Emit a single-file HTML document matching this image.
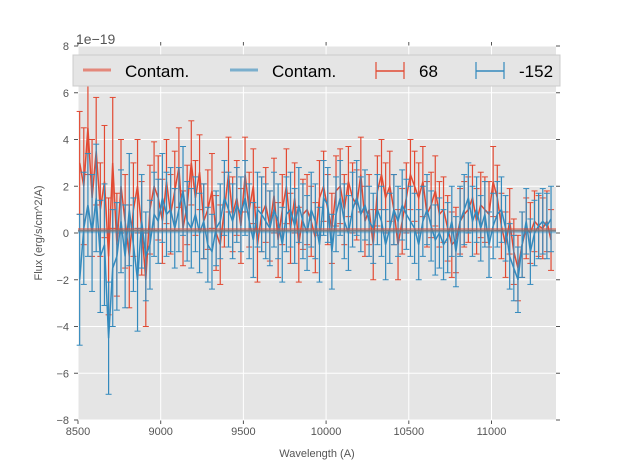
<!DOCTYPE html>
<html><head><meta charset="utf-8"><style>
body{margin:0;background:#fff;font-family:"Liberation Sans",sans-serif}
</style></head><body>
<svg id="chart" width="617" height="467" xmlns="http://www.w3.org/2000/svg" font-family="Liberation Sans, sans-serif"></svg>
<script>
const xStart = 8510, xStep = 25;
const redFlux = [3.0,2.0,4.5,1.5,3.5,1.0,2.2,-1.0, 3.0,-0.5,2.0,0.5,-1.0,1.0,2.0,0.2, -2.0,1.0,2.0,1.5,0.5,2.2,0.8,1.8, 2.8,0.2,1.2,3.0,1.5,2.6,0.5,1.0, 1.8,0.0,-0.5,1.0,2.5,0.8,1.5,0.3, 2.5,1.0,2.0,-0.5,0.8,1.2,0.3,1.6, -0.3,1.0,2.0,0.2,1.5,-0.5,0.8,1.0, 0.5,-0.2,1.5,2.0,1.0,0.2,1.8,2.0, 1.0,2.2,1.5,1.2,2.5,0.5,1.0,-0.5, 1.8,2.5,1.5,2.0,1.0,-0.5,0.5,1.5, 2.5,2.0,1.5,2.2,0.8,1.2,1.8,0.8, 1.0,0.2,-0.5,-0.3,0.5,0.8,1.0,1.5, 0.5,1.2,1.0,0.8,2.2,1.5,0.3,-0.5, 0.5,-0.8,-1.5,-0.5,0.2,0.0,0.5,0.3, 0.2,0.5,-0.3];
const redErr = [2.2,2.5,2.0,2.5,2.3,2.0,2.4,2.5, 2.8,2.2,2.0,2.0,2.2,2.0,2.0,2.0, 2.0,1.9,1.9,1.8,1.8,1.8,1.7,1.7, 1.7,1.6,1.7,1.8,1.6,1.6,1.6,1.7, 1.6,1.6,1.7,1.6,1.6,1.6,1.6,1.6, 1.6,1.6,1.6,1.6,1.6,1.6,1.5,1.6, 1.6,1.5,1.6,1.5,1.5,1.6,1.5,1.5, 1.5,1.5,1.6,1.5,1.5,1.5,1.5,1.6, 1.5,1.5,1.5,1.5,1.6,1.5,1.5,1.5, 1.5,1.5,1.5,1.5,1.5,1.5,1.4,1.5, 1.5,1.5,1.5,1.5,1.4,1.4,1.5,1.4, 1.4,1.4,1.4,1.4,1.4,1.4,1.4,1.4, 1.4,1.4,1.4,1.4,1.5,1.4,1.4,1.4, 1.4,1.4,1.4,1.4,1.3,1.3,1.3,1.3, 1.3,1.3,1.3];
const blueFlux = [-2.0,0.2,1.2,0.0,1.5,-1.0,-0.5,-4.5, -1.5,-1.0,0.5,-1.0,1.0,-0.5,-2.0,0.5, -1.0,-0.5,0.8,0.5,1.5,0.8,1.0,0.2, 1.0,1.8,0.5,0.2,0.8,0.0,0.5,-0.5, -0.8,0.2,0.5,1.5,1.0,0.5,1.2,0.8, 1.5,0.5,-0.3,1.0,0.8,0.5,0.2,1.0, 0.5,-0.5,0.8,1.0,0.3,1.2,0.5,0.0, 1.0,0.5,-0.5,1.5,1.2,-0.8,0.8,1.5, 0.5,0.0,1.0,1.5,0.8,1.2,0.5,0.2, 1.0,0.5,-0.5,0.2,1.0,0.5,1.2,0.8, 0.5,0.2,-0.5,0.5,1.0,0.3,-0.3,0.0, -0.5,-0.2,0.5,-0.8,0.5,1.0,1.5,0.5, 1.0,0.2,0.8,-0.5,0.3,0.8,1.0,0.2, -1.0,-1.5,-2.0,-0.5,0.5,-0.8,0.0,0.3, 0.5,0.3,0.6];
const blueErr = [2.8,2.4,2.2,2.5,2.3,2.4,2.6,2.4, 2.5,2.3,2.2,2.2,2.4,2.0,2.2,2.0, 1.9,1.9,1.8,1.8,1.9,1.8,1.8,1.7, 1.8,1.9,1.7,1.7,1.6,1.7,1.6,1.6, 1.6,1.6,1.6,1.6,1.6,1.6,1.6,1.6, 1.6,1.6,1.6,1.6,1.6,1.6,1.6,1.6, 1.6,1.6,1.6,1.6,1.6,1.6,1.6,1.6, 1.6,1.6,1.6,1.6,1.6,1.6,1.6,1.6, 1.6,1.6,1.6,1.6,1.6,1.5,1.5,1.5, 1.5,1.5,1.5,1.5,1.5,1.5,1.5,1.5, 1.5,1.5,1.5,1.5,1.5,1.5,1.5,1.5, 1.5,1.5,1.5,1.5,1.5,1.5,1.5,1.5, 1.4,1.4,1.4,1.4,1.4,1.4,1.4,1.4, 1.4,1.4,1.4,1.4,1.4,1.4,1.4,1.4, 1.4,1.4,1.4];
const redContam = 0.15, blueContam = 0.05;
const xTicks = [8500,9000,9500,10000,10500,11000];
const yTicks = [-8,-6,-4,-2,0,2,4,6,8];

const L=78,R=556,T=46,B=420,xMin=8500,xMax=11390,yMin=-8,yMax=8;
const sx=v=>L+(v-xMin)/(xMax-xMin)*(R-L);
const sy=v=>B-(v-yMin)/(yMax-yMin)*(B-T);
const svg=document.getElementById('chart');
const NS='http://www.w3.org/2000/svg';
function mk(tag,attrs,parent){const e=document.createElementNS(NS,tag);for(const k in attrs)e.setAttribute(k,attrs[k]);(parent||svg).appendChild(e);return e;}

const bg=mk('rect',{x:L,y:T,width:R-L,height:B-T,fill:'#e5e5e5'});


xTicks.forEach(t=>{
  const g=mk('line',{x1:sx(t),x2:sx(t),y1:T,y2:B,stroke:'#fff','stroke-width':1});
  
  
  mk('line',{x1:sx(t),x2:sx(t),y1:B,y2:B+4,stroke:'#555'});
  mk('line',{x1:sx(t),x2:sx(t),y1:T,y2:T-4,stroke:'#555'});
  const tx=mk('text',{x:sx(t),y:B+15,'text-anchor':'middle','font-size':11,fill:'#555'});
  tx.textContent=t;
  
  
});
yTicks.forEach(t=>{
  const g=mk('line',{x1:L,x2:R,y1:sy(t),y2:sy(t),stroke:'#fff','stroke-width':1});
  
  
  mk('line',{x1:L-4,x2:L,y1:sy(t),y2:sy(t),stroke:'#555'});
  mk('line',{x1:R,x2:R+4,y1:sy(t),y2:sy(t),stroke:'#555'});
  const tx=mk('text',{x:L-9,y:sy(t)+4,'text-anchor':'end','font-size':11,fill:'#555'});
  tx.textContent=(t<0?'\u2212'+(-t):t);
  
  
});

function series(vals,errs,color,name){
  const g=mk('g',{});
  
  
  let d='';
  vals.forEach((v,i)=>{
    const x=sx(xStart+i*xStep);
    const e=errs[i];
    mk('line',{x1:x,x2:x,y1:sy(v-e),y2:sy(v+e),stroke:color,'stroke-width':1.2},g);
    mk('line',{x1:x-3,x2:x+3,y1:sy(v-e),y2:sy(v-e),stroke:color,'stroke-width':1},g);
    mk('line',{x1:x-3,x2:x+3,y1:sy(v+e),y2:sy(v+e),stroke:color,'stroke-width':1},g);
    d+=(i?'L':'M')+x.toFixed(1)+' '+sy(v).toFixed(1);
  });
  mk('path',{d:d,fill:'none',stroke:color,'stroke-width':1.5},g);
}
series(redFlux,redErr,'#e24a33','series-68');
series(blueFlux,blueErr,'#348abd','series-minus-152');
const c1=mk('line',{x1:L,x2:R,y1:sy(redContam),y2:sy(redContam),stroke:'#e24a33','stroke-width':3,'stroke-opacity':0.5});


const c2=mk('line',{x1:L,x2:R,y1:sy(blueContam),y2:sy(blueContam),stroke:'#348abd','stroke-width':3,'stroke-opacity':0.5});


mk('line',{x1:L,x2:R,y1:sy(0.1),y2:sy(0.1),stroke:'#777','stroke-width':2,'stroke-opacity':0.7});

const mult=mk('text',{x:76,y:44,'font-size':14,fill:'#555'});
mult.textContent='1e\u221219';


const xl=mk('text',{x:(L+R)/2,y:457,'text-anchor':'middle','font-size':11,fill:'#555'});
xl.textContent='Wavelength (A)';


const yl=mk('text',{x:42,y:233,'text-anchor':'middle','font-size':11,fill:'#555',transform:'rotate(-90 42 233)'});
yl.textContent='Flux (erg/s/cm^2/A)';



const lg=mk('g',{});


mk('rect',{x:73,y:55,width:487,height:31,fill:'#e5e5e5',stroke:'#ccc'},lg);
const entries=[['Contam.','#e24a33',false,83],['Contam.','#348abd',false,230],['68','#e24a33',true,376],['-152','#348abd',true,476]];
entries.forEach(([lab,col,eb,x0])=>{
  const eg=mk('g',{},lg);
  
  
  if(eb){
    mk('line',{x1:x0,x2:x0+28,y1:71,y2:71,stroke:col,'stroke-width':1.5},eg);
    mk('line',{x1:x0,x2:x0,y1:62,y2:79,stroke:col,'stroke-width':1.2},eg);
    mk('line',{x1:x0+28,x2:x0+28,y1:62,y2:79,stroke:col,'stroke-width':1.2},eg);
  } else {
    mk('line',{x1:x0,x2:x0+28,y1:70,y2:70,stroke:col,'stroke-width':3,'stroke-opacity':0.6},eg);
  }
  const t=mk('text',{x:x0+(eb?43:42),y:77,'font-size':17,fill:'#000'},eg);
  t.textContent=lab;
});
</script>
</body></html>
